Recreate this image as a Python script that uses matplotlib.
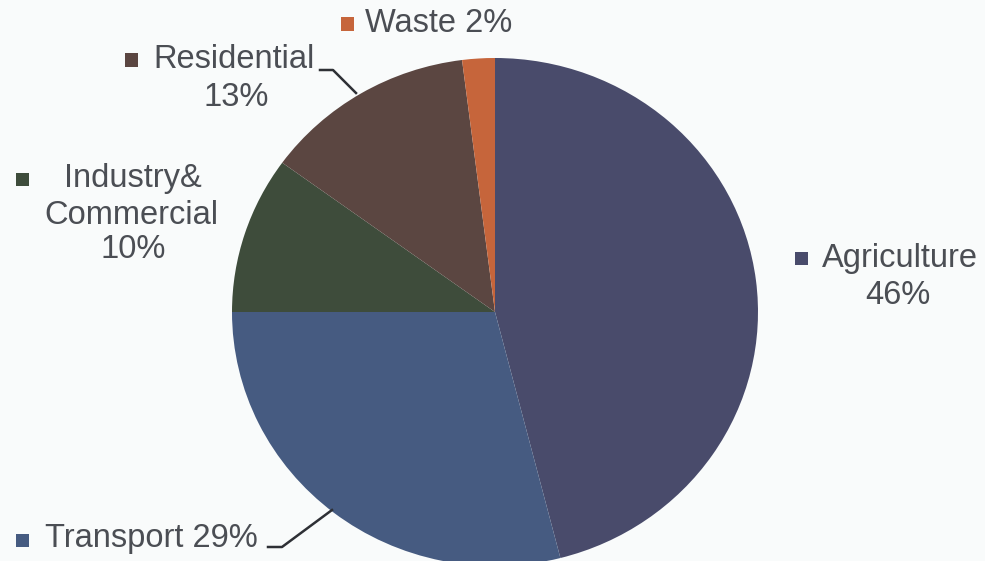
import matplotlib.pyplot as plt
from matplotlib.patches import Rectangle
from matplotlib.lines import Line2D

sectors = ["Agriculture", "Transport", "Industry&\nCommercial", "Residential", "Waste"]
shares = [46, 29, 10, 13, 2]
colors = ["#494b6b", "#465b81", "#3e4c3b", "#5b4641", "#c6653b"]

W, H = 985, 561
plt.rcParams["font.family"] = ["Liberation Sans", "DejaVu Sans"]
fig = plt.figure(figsize=(W / 100, H / 100), dpi=100)
fig.patch.set_facecolor("#f9fbfb")
ax = fig.add_axes([0, 0, 1, 1])

# pie is slightly squashed, so scale x and y separately
rx, ry = 263, 254
cx, cy = 495, 312
ax.pie(shares, colors=colors, startangle=90, counterclock=False,
       center=(cx / rx, (H - cy) / ry), radius=1,
       wedgeprops=dict(linewidth=0))
ax.set_xlim(0, W / rx)
ax.set_ylim(0, H / ry)
ax.set_aspect("auto")
ax.set_axis_off()

txt_color = "#4b4e54"
fs = 23.5


def fx(x):
    return x / W


def fy(y):
    return 1 - y / H


def square(x, y, c, s=13):
    fig.add_artist(Rectangle((fx(x - s / 2), fy(y + s / 2)), s / W, s / H,
                             transform=fig.transFigure, color=c, lw=0))


def label(x, y, s, ha="left"):
    fig.text(fx(x), fy(y), s, ha=ha, va="center", fontsize=fs,
             color=txt_color, linespacing=1.15)


def leader(xs, ys):
    fig.add_artist(Line2D([fx(v) for v in xs], [fy(v) for v in ys],
                          transform=fig.transFigure, color="#2e3035", lw=1.8))


# Waste
square(347, 24, colors[4])
label(365, 24, f"Waste {shares[4]}%")

# Residential
square(131, 60, colors[3])
label(153, 60, "Residential")
label(236, 98, f"{shares[3]}%", ha="center")
leader([320, 333, 356], [70, 70, 93])

# Industry & Commercial
square(22, 179, colors[2])
label(133, 178, "Industry&", ha="center")
label(131, 215, "Commercial", ha="center")
label(133, 249, f"{shares[2]}%", ha="center")

# Agriculture
square(801, 258, colors[0])
label(822, 258, "Agriculture")
label(898, 296, f"{shares[0]}%", ha="center")

# Transport
square(22, 540, colors[1])
label(45, 538, f"Transport {shares[1]}%")
leader([268, 282, 332], [547, 547, 510])

fig.savefig("out.png", dpi=100, facecolor=fig.get_facecolor())
